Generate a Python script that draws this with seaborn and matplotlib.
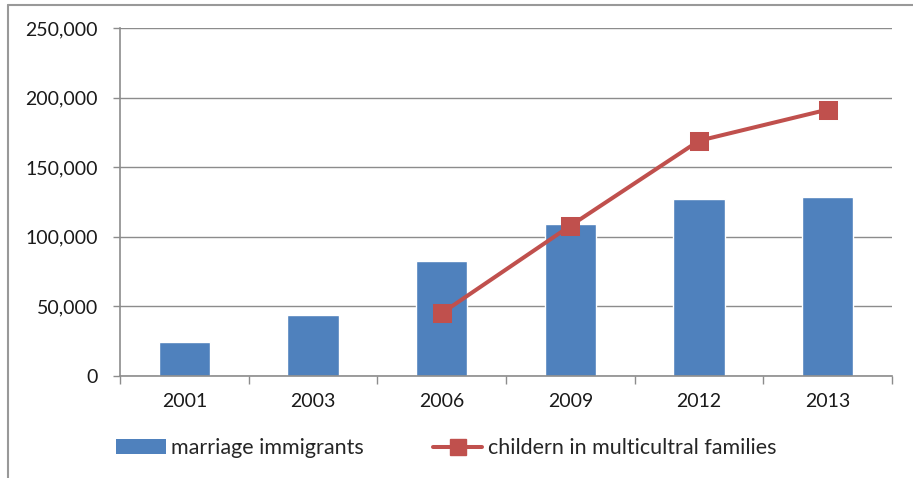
import matplotlib
matplotlib.use("Agg")
import matplotlib.pyplot as plt
import seaborn as sns
import pandas as pd
from matplotlib.lines import Line2D
from matplotlib.ticker import FuncFormatter, FixedLocator

years = ["2001", "2003", "2006", "2009", "2012", "2013"]
marriage_immigrants = [24200, 43700, 82700, 109400, 127100, 128300]
line_years = ["2006", "2009", "2012", "2013"]
children_multicultural = [45100, 107900, 169000, 191400]
y_ticks = [0, 50000, 100000, 150000, 200000, 250000]

bar_label = "marriage immigrants"
line_label = "childern in multicultral families"

sns.set_theme(style="white")
plt.rcParams["font.family"] = ["Lato", "DejaVu Sans"]

bar_color = "#4F81BD"
line_color = "#C0504D"
grid_color = "#8C8C8C"

fig = plt.figure(figsize=(9.13, 4.78), dpi=100)
ax = fig.add_axes([120 / 913, 1 - 376 / 478, (892 - 120) / 913, (376 - 28) / 478])

df_bar = pd.DataFrame({"year": years, "value": marriage_immigrants})
df_line = pd.DataFrame({"year": line_years, "value": children_multicultural})

sns.barplot(data=df_bar, x="year", y="value", order=years, color=bar_color,
            width=0.4, saturation=1, ax=ax, label=bar_label, zorder=2)
sns.pointplot(data=df_line, x="year", y="value", order=years, color=line_color,
              markers="s", linestyles="-", ax=ax, label=line_label,
              markersize=11, linewidth=2.9, zorder=3)

ax.set_ylim(0, 250000)
ax.set_xlim(-0.5, len(years) - 0.5)
ax.set_yticks(y_ticks)
ax.yaxis.set_major_formatter(FuncFormatter(lambda v, p: f"{int(v):,}"))
ax.grid(axis="y", color=grid_color, linewidth=1.0, zorder=0)
ax.set_axisbelow(True)
ax.set_xlabel("")
ax.set_ylabel("")

for s in ["top", "right"]:
    ax.spines[s].set_visible(False)
for s in ["left", "bottom"]:
    ax.spines[s].set_color(grid_color)
    ax.spines[s].set_linewidth(1.2)

ax.tick_params(axis="y", which="major", length=5, width=1, color=grid_color,
               left=True, pad=11, labelsize=14, labelcolor="#1a1a1a")
ax.tick_params(axis="x", which="major", length=0, pad=12, labelsize=14,
               labelcolor="#1a1a1a")
ax.xaxis.set_minor_locator(FixedLocator([i - 0.5 for i in range(len(years) + 1)]))
ax.tick_params(axis="x", which="minor", length=6, width=1, color=grid_color,
               bottom=True)

if ax.get_legend() is not None:
    ax.get_legend().remove()

handles = [
    plt.Rectangle((0, 0), 1, 1, facecolor=bar_color, edgecolor="none"),
    Line2D([0], [0], color=line_color, linewidth=2.9, marker="s", markersize=11),
]
fig.legend(handles, [bar_label, line_label], loc="center left",
           bbox_to_anchor=(99 / 913, 1 - 448 / 478), ncol=2, frameon=False,
           fontsize=15.5, handlelength=2.3, handleheight=0.65,
           columnspacing=3.2, handletextpad=0.25, borderpad=0.3)

# outer chart frame (top and left edges)
fig.add_artist(Line2D([8 / 913, 8 / 913], [0, 1 - 5 / 478], transform=fig.transFigure,
                      color="#999999", linewidth=1.5))
fig.add_artist(Line2D([8 / 913, 1], [1 - 5 / 478, 1 - 5 / 478], transform=fig.transFigure,
                      color="#999999", linewidth=1.5))

fig.savefig("out.png", dpi=100)
